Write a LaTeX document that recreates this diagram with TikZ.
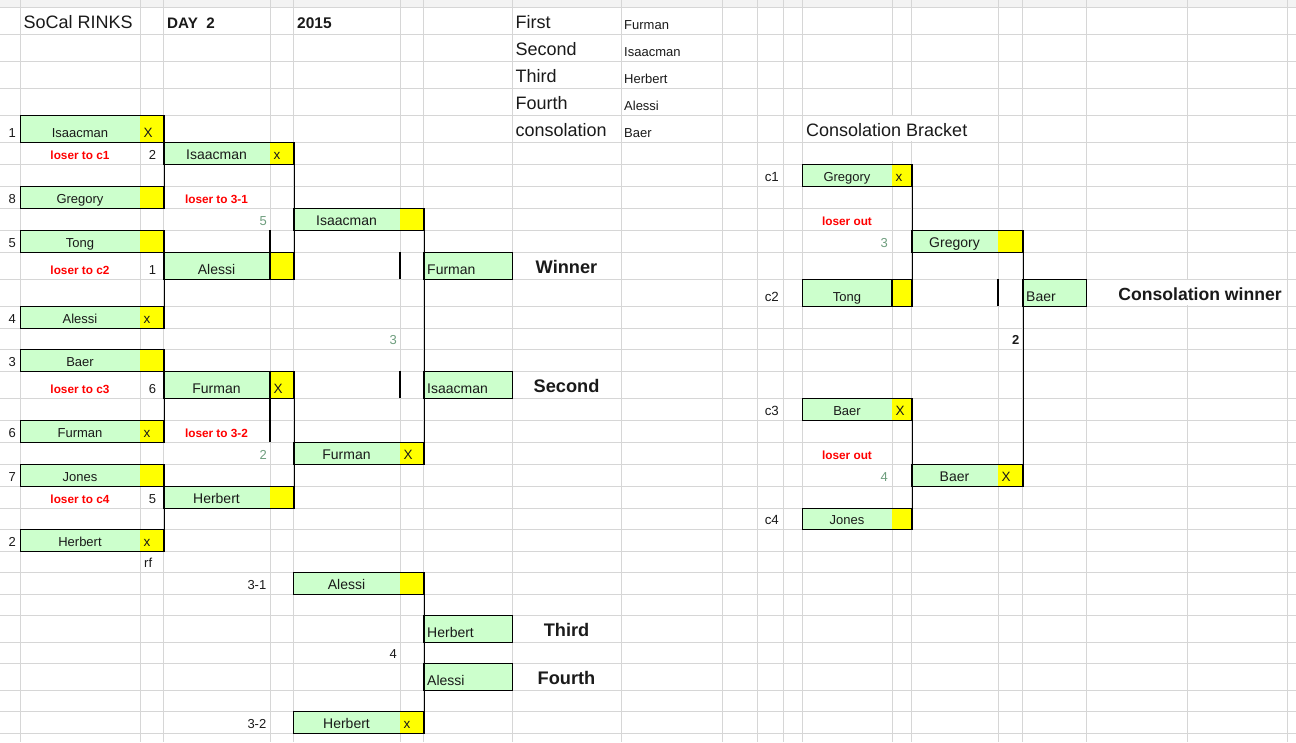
\documentclass[tikz,border=0pt]{standalone}
\usepackage{fontspec}
\setmainfont{Liberation Sans}
\definecolor{boxgreen}{HTML}{CCFFCC}
\definecolor{boxyellow}{HTML}{FFFF00}
\definecolor{gridc}{HTML}{D6D6D6}
\definecolor{bandc}{HTML}{F3F3F3}
\definecolor{numgreen}{HTML}{6E9E7E}
\definecolor{losred}{HTML}{FF0000}
\definecolor{ink}{HTML}{1A1A1A}
\newcommand\fsz[1]{\fontsize{#1}{#1}\selectfont}
% name, x1, xsplit, x2, y1, y2, text, mark, font size
\newcommand\bbox[9]{%
  \fill[boxgreen] (#2,#5) rectangle (#3,#6);
  \fill[boxyellow] (#3,#5) rectangle (#4,#6);
  \node[frame,minimum width={(#4-#2)*1pt},minimum height={(#6-#5)*1pt}] (#1) at (#2,#5) {};
  \node[txt,font=\fsz{#9}] (#1-t) at ({(#2+#3)/2},#6-4.5) {#7};
  \node[txt,anchor=base west,font=\fsz{13.5}] (#1-m) at (#3+3.5,#6-4.5) {#8};
}
% name, x1, x2, y1, y2, text
\newcommand\wbox[6]{%
  \node[frame,fill=boxgreen,minimum width={(#3-#2)*1pt},minimum height={(#5-#4)*1pt}] (#1) at (#2,#4) {};
  \node[txt,anchor=base west,font=\fsz{14}] (#1-t) at (#2+4,#5-4.5) {#6};
}
\begin{document}
\begin{tikzpicture}[x=1pt,y=-1pt,
  frame/.style={draw=black,line width=1.3pt,inner sep=0pt,anchor=north west},
  conn/.style={draw=black,line width=1.3pt},
  gridline/.style={draw=gridc,line width=0.85pt},
  txt/.style={text=ink,anchor=base,inner sep=0pt,font=\fsz{13}},
  lost/.style={txt,text=losred,font=\bfseries\fsz{11.8}},
  gnum/.style={txt,text=numgreen,anchor=base east,font=\fsz{13}},
  big/.style={txt,anchor=base west,font=\fsz{18}},
  lbl/.style={txt,font=\bfseries\fsz{18.2}}]
\useasboundingbox (0,0) rectangle (1296,742);
\fill[white] (0,0) rectangle (1296,742);
\fill[bandc] (0,0) rectangle (1296,7);
% grid
\foreach \x in {20,140,163,270,293,400,423,512,621,722,757,783,802,892,911,998,1022,1086,1187,1287}
  \draw[gridline] (\x,0) -- (\x,742);
\foreach \y in {7,34,61,88,115,142,164,186,208,230,252,279,306,328,349,371,398,420,442,464,486,508,529,551,572,594,615,642,663,690,711,733}
  \draw[gridline] (0,\y) -- (1296,\y);
% overflowing text hides grid lines
\fill[white] (803,116) rectangle (997,141);
\fill[white] (1088,280) rectangle (1286,305);

% header
\node[big] (title) at (23.5,28) {SoCal RINKS};
\node[txt,anchor=base west,font=\bfseries\fsz{15.2}] (day) at (167,28) {DAY\ \ 2};
\node[txt,anchor=base west,font=\bfseries\fsz{15.5}] (year) at (297,28) {2015};
\node[big] (p1) at (515.5,28) {First};
\node[big] (p2) at (515.5,55) {Second};
\node[big] (p3) at (515.5,82) {Third};
\node[big] (p4) at (515.5,109) {Fourth};
\node[big] (p5) at (515.5,136) {consolation};
\node[txt,anchor=base west] (n1) at (624,29) {Furman};
\node[txt,anchor=base west] (n2) at (624,56) {Isaacman};
\node[txt,anchor=base west] (n3) at (624,83) {Herbert};
\node[txt,anchor=base west] (n4) at (624,110) {Alessi};
\node[txt,anchor=base west] (n5) at (624,137) {Baer};
\node[big] (cbr) at (806,136) {Consolation Bracket};

% round 1
\bbox{r1a}{20}{140}{163}{115}{142}{Isaacman}{X}{13}
\bbox{r1b}{20}{140}{163}{186}{208}{Gregory}{}{13}
\bbox{r1c}{20}{140}{163}{230}{252}{Tong}{}{13}
\bbox{r1d}{20}{140}{163}{306}{328}{Alessi}{x}{13}
\bbox{r1e}{20}{140}{163}{349}{371}{Baer}{}{13}
\bbox{r1f}{20}{140}{163}{420}{442}{Furman}{x}{13}
\bbox{r1g}{20}{140}{163}{464}{486}{Jones}{}{13}
\bbox{r1h}{20}{140}{163}{529}{551}{Herbert}{x}{13}
% round 2
\bbox{r2a}{163}{270}{293}{142}{164}{Isaacman}{x}{14}
\bbox{r2b}{163}{270}{293}{252}{279}{Alessi}{}{14}
\bbox{r2c}{163}{270}{293}{371}{398}{Furman}{X}{14}
\bbox{r2d}{163}{270}{293}{486}{508}{Herbert}{}{14}
% round 3
\bbox{r3a}{293}{400}{423}{208}{230}{Isaacman}{}{14}
\bbox{r3b}{293}{400}{423}{442}{464}{Furman}{X}{14}
\bbox{t31}{293}{400}{423}{572}{594}{Alessi}{}{14}
\bbox{t32}{293}{400}{423}{711}{733}{Herbert}{x}{14}
% finals
\wbox{fw}{423}{512}{252}{279}{Furman}
\wbox{fs}{423}{512}{371}{398}{Isaacman}
\wbox{ft}{423}{512}{615}{642}{Herbert}
\wbox{ff}{423}{512}{663}{690}{Alessi}
% consolation
\bbox{c1b}{802}{892}{911}{164}{186}{Gregory}{x}{13}
\bbox{c2b}{802}{892}{911}{279}{306}{Tong}{}{13}
\bbox{c3b}{802}{892}{911}{398}{420}{Baer}{X}{13}
\bbox{c4b}{802}{892}{911}{508}{529}{Jones}{}{13}
\bbox{cr2a}{911}{998}{1022}{230}{252}{Gregory}{}{14}
\bbox{cr2b}{911}{998}{1022}{464}{486}{Baer}{X}{14}
\wbox{cw}{1022}{1086}{279}{306}{Baer}

% connectors
\draw[conn] (r1a.north east) -- (r1b.south east);
\draw[conn] (r1c.north east) -- (r1d.south east);
\draw[conn] (r1e.north east) -- (r1f.south east);
\draw[conn] (r1g.north east) -- (r1h.south east);
\draw[conn] (r2a.north east) -- (r2b.south east);
\draw[conn] (r2c.north east) -- (r2d.south east);
\draw[conn] (r3a.north east) -- (r3b.south east);
\draw[conn] (t31.north east) -- (t32.south east);
\draw[conn] (c1b.north east) -- (c2b.south east);
\draw[conn] (c3b.north east) -- (c4b.south east);
\draw[conn] (cr2a.north east) -- (cr2b.south east);
% short border stubs
\coordinate (sa1) at (400,252); \coordinate (sa2) at (400,279);
\coordinate (sb1) at (400,371); \coordinate (sb2) at (400,398);
\coordinate (sc1) at (998,279); \coordinate (sc2) at (998,306);
\coordinate (sd1) at (270,230); \coordinate (sd2) at (270,279);
\coordinate (se1) at (270,371); \coordinate (se2) at (270,442);
\coordinate (sf1) at (892,279); \coordinate (sf2) at (892,306);
\draw[conn] (sa1) -- (sa2);
\draw[conn] (sb1) -- (sb2);
\draw[conn] (sc1) -- (sc2);
\draw[conn] (sd1) -- (sd2);
\draw[conn] (se1) -- (se2);
\draw[conn] (sf1) -- (sf2);

% seeds
\node[txt,anchor=base east] (s1) at (16,137.5) {1};
\node[txt,anchor=base east] (s8) at (16,203.5) {8};
\node[txt,anchor=base east] (s5) at (16,247.5) {5};
\node[txt,anchor=base east] (s4) at (16,323.5) {4};
\node[txt,anchor=base east] (s3) at (16,366.5) {3};
\node[txt,anchor=base east] (s6) at (16,437.5) {6};
\node[txt,anchor=base east] (s7) at (16,481.5) {7};
\node[txt,anchor=base east] (s2) at (16,546.5) {2};
% game numbers
\node[txt] (g2) at (152.5,159.5) {2};
\node[txt] (g1) at (152.5,274.5) {1};
\node[txt] (g6) at (152.5,393.5) {6};
\node[txt] (g5) at (152.5,503.5) {5};
\node[txt,anchor=base west] (rf) at (144,567.5) {rf};
\node[gnum] (g5b) at (267,225.5) {5};
\node[gnum] (g2b) at (267,459.5) {2};
\node[gnum] (g3b) at (397,344.5) {3};
\node[txt,anchor=base east] (l31) at (266.5,589.5) {3-1};
\node[txt,anchor=base east] (l32) at (266.5,728.5) {3-2};
\node[txt,anchor=base east] (g4) at (397,658.5) {4};
% loser notes
\node[lost] (lc1) at (80,159) {loser to c1};
\node[lost] (lc2) at (80,274) {loser to c2};
\node[lost] (lc3) at (80,393) {loser to c3};
\node[lost] (lc4) at (80,503) {loser to c4};
\node[lost] (l3a) at (216.5,203) {loser to 3-1};
\node[lost] (l3b) at (216.5,437) {loser to 3-2};
% place labels
\node[lbl] (lw) at (566.5,273) {Winner};
\node[lbl] (ls) at (566.5,392) {Second};
\node[lbl] (lt) at (566.5,636) {Third};
\node[lbl] (lf) at (566.5,684) {Fourth};
% consolation labels
\node[txt,anchor=base east,font=\fsz{13.3}] (cc1) at (779,181.5) {c1};
\node[txt,anchor=base east,font=\fsz{13.3}] (cc2) at (779,301.5) {c2};
\node[txt,anchor=base east,font=\fsz{13.3}] (cc3) at (779,415.5) {c3};
\node[txt,anchor=base east,font=\fsz{13.3}] (cc4) at (779,524.5) {c4};
\node[lost] (lo1) at (847,225) {loser out};
\node[lost] (lo2) at (847,459) {loser out};
\node[gnum] (cg3) at (888,247.5) {3};
\node[gnum] (cg4) at (888,481.5) {4};
\node[txt,anchor=base east,font=\bfseries\fsz{13}] (cg2) at (1019.5,344.5) {2};
\node[txt,font=\bfseries\fsz{17.6}] (lcw) at (1200,300) {Consolation winner};
\end{tikzpicture}
\end{document}
